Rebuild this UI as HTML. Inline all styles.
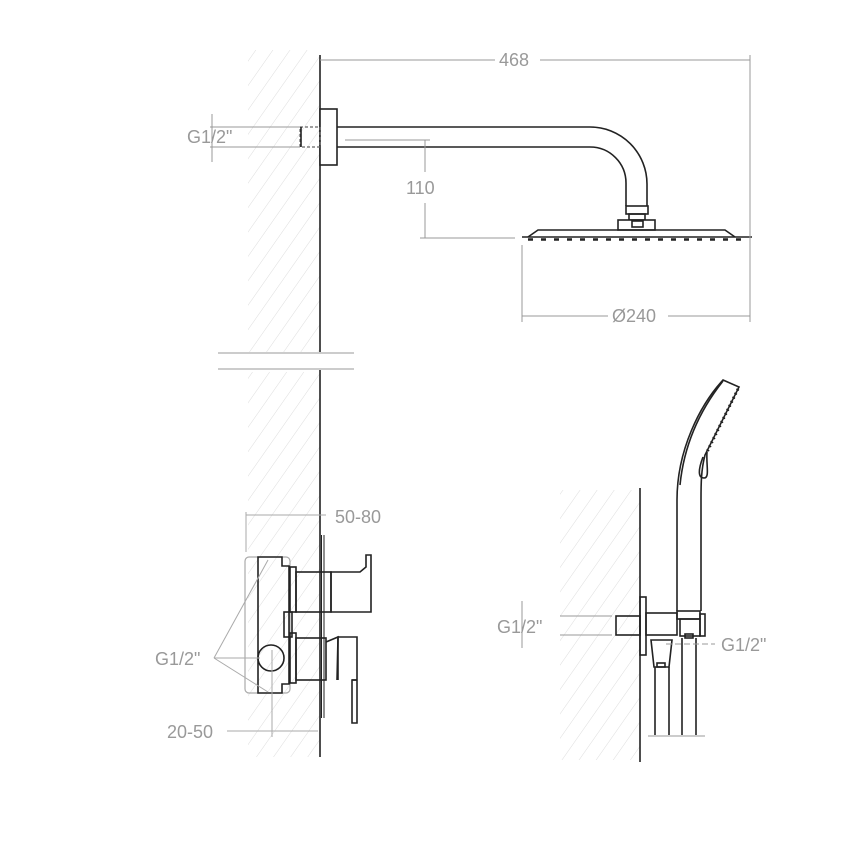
<!DOCTYPE html>
<html><head><meta charset="utf-8"><style>
html,body{margin:0;padding:0;background:#fff;}
svg{display:block;}
text{font-family:"Liberation Sans",sans-serif;font-size:18px;fill:#999;}
</style></head><body>
<svg width="850" height="850" viewBox="0 0 850 850" xmlns="http://www.w3.org/2000/svg">
<defs>
<pattern id="h" patternUnits="userSpaceOnUse" width="14" height="14" patternTransform="rotate(35)">
<line x1="0" y1="0" x2="0" y2="14" stroke="#ddd" stroke-width="1"/>
</pattern>
</defs>
<rect x="248" y="50" width="72" height="302" fill="url(#h)"/>
<rect x="248" y="372" width="72" height="385" fill="url(#h)"/>
<rect x="560" y="490" width="80" height="270" fill="url(#h)"/>

<g stroke="#222" stroke-width="1.6" fill="none">
<line x1="320" y1="55" x2="320" y2="352"/>
<line x1="320" y1="370" x2="320" y2="757"/>
<line x1="640" y1="488" x2="640" y2="762"/>
<rect x="320" y="109" width="17" height="56" fill="#fff"/>
<path d="M337 127 H590 A57 57 0 0 1 647 184 V206"/>
<path d="M337 147 H590 A36 36 0 0 1 626 183 V206"/>
<rect x="626" y="206" width="22" height="8"/>
<rect x="629" y="214" width="16" height="6"/>
<rect x="618" y="220" width="37" height="10" fill="#fff"/>
<rect x="632" y="221" width="11" height="6"/>
<path d="M528 237 L538 230 H725 L735 237"/>
<line x1="522" y1="237" x2="752" y2="237"/>
</g>
<g stroke="#222" stroke-width="2.5">
<path d="M528 239.5 H748" stroke-dasharray="5 8"/>
</g>
<rect x="300" y="127" width="20" height="20" fill="none" stroke="#666" stroke-width="1.2" stroke-dasharray="3 2"/>
<line x1="301" y1="127" x2="301" y2="147" stroke="#222" stroke-width="1.6"/>

<g stroke="#999" stroke-width="1">
<line x1="218" y1="353" x2="354" y2="353"/>
<line x1="218" y1="369" x2="354" y2="369"/>
</g>

<g stroke="#999" stroke-width="1" fill="none">
<line x1="320" y1="60" x2="495" y2="60"/>
<line x1="540" y1="60" x2="750" y2="60"/>
<line x1="750" y1="55" x2="750" y2="322"/>
<line x1="522" y1="245" x2="522" y2="322"/>
<line x1="522" y1="316" x2="608" y2="316"/>
<line x1="668" y1="316" x2="750" y2="316"/>
<line x1="345" y1="140" x2="430" y2="140"/>
<line x1="420" y1="238" x2="515" y2="238"/>
<line x1="425" y1="140" x2="425" y2="172"/>
<line x1="425" y1="203" x2="425" y2="238"/>
<line x1="210" y1="127" x2="300" y2="127"/>
<line x1="210" y1="147" x2="300" y2="147"/>
<line x1="212" y1="114" x2="212" y2="162"/>
</g>
<text x="499" y="66">468</text>
<text x="612" y="322">Ø240</text>
<text x="406" y="194">110</text>
<text x="187" y="143">G1/2"</text>

<rect x="245" y="557" width="45" height="136" rx="4" fill="none" stroke="#aaa" stroke-width="1.2"/>
<g stroke="#222" stroke-width="1.6" fill="none">
<path d="M258 557 H282 V566 H289 V684 H282 V693 H258 Z"/>
<rect x="290" y="567" width="6" height="45"/>
<rect x="284" y="612" width="8" height="25"/>
<rect x="290" y="633" width="6" height="50"/>
<rect x="296" y="572" width="35" height="40"/>
<path d="M331 572 H360 L366 567 V555 H371 V612 H331 Z"/>
<rect x="296" y="638" width="30" height="42"/>
<path d="M326 642 L338 637 L337 680"/>
<path d="M338 680 V637 H357 V680 H352 V723 H357 V680"/>
<line x1="352" y1="680" x2="357" y2="680"/>
<circle cx="271" cy="658" r="13"/>
</g>
<g stroke="#222" stroke-width="1" fill="none">
<line x1="321.5" y1="535" x2="321.5" y2="718"/>
<line x1="324" y1="535" x2="324" y2="718"/>
</g>
<g stroke="#aaa" stroke-width="1" fill="none">
<line x1="246" y1="512" x2="246" y2="552"/>
<line x1="246" y1="515" x2="326" y2="515"/>
<line x1="227" y1="731" x2="318" y2="731"/>
<line x1="272" y1="650" x2="272" y2="737"/>
<line x1="214" y1="658" x2="268" y2="560"/>
<line x1="214" y1="658" x2="260" y2="658"/>
<line x1="214" y1="658" x2="268" y2="692"/>
</g>
<text x="335" y="523">50-80</text>
<text x="167" y="738">20-50</text>
<text x="155" y="665">G1/2"</text>

<g stroke="#222" stroke-width="1.6" fill="none">
<rect x="640" y="597" width="6" height="58"/>
<rect x="616" y="616" width="24" height="19"/>
<rect x="646" y="613" width="31" height="22"/>
<rect x="677" y="611" width="23" height="8"/>
<rect x="680" y="619" width="20" height="17"/>
<rect x="700" y="614" width="5" height="22"/>
<path d="M651 640 H672 L669 667 H654 Z"/>
<rect x="657" y="663" width="8" height="4"/>
<rect x="685" y="634" width="8" height="4"/>
<line x1="655" y1="667" x2="655" y2="735"/>
<line x1="669" y1="667" x2="669" y2="735"/>
<line x1="682" y1="638" x2="682" y2="735"/>
<line x1="696" y1="638" x2="696" y2="735"/>
<path d="M677 611 V500 C677 450 700 405 723 380 L739 387 L705 455 C701 470 701 485 701 500 V611"/>
<path d="M723 381 C700 410 684 445 680 485"/>
<path d="M703 457 C698 470 698 478 704 478 C710 478 706 465 707 452"/>
</g>
<path d="M738 389 L707 452" stroke="#222" stroke-width="3" stroke-dasharray="1.5 3" fill="none"/>
<g stroke="#999" stroke-width="1" fill="none">
<line x1="648" y1="736" x2="705" y2="736"/>
<line x1="560" y1="616" x2="612" y2="616"/>
<line x1="560" y1="635" x2="612" y2="635"/>
<line x1="522" y1="601" x2="522" y2="648"/>
<line x1="666" y1="644" x2="715" y2="644" stroke-dasharray="6 3"/>
</g>
<text x="497" y="633">G1/2"</text>
<text x="721" y="651">G1/2"</text>
</svg>
</body></html>
